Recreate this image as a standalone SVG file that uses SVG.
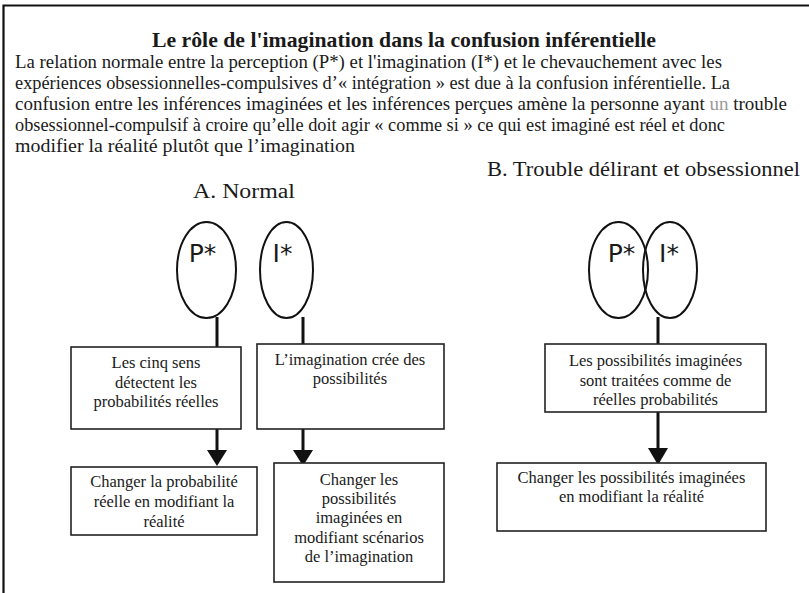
<svg xmlns="http://www.w3.org/2000/svg" width="809" height="593" viewBox="0 0 809 593">
<defs>
<style>
text{font-family:"Liberation Serif","Times New Roman",serif;fill:#1a1a1a}
.title{font-size:22px;font-weight:bold}
.body{font-size:18.7px}
.sec{font-size:20px}
.bx{font-size:16.5px;text-anchor:middle}
.lbl{font-family:"DejaVu Sans","Liberation Sans",sans-serif;font-size:25px;text-anchor:middle}
.box{fill:#fff;stroke:#222;stroke-width:1.6}
.ell{fill:none;stroke:#111;stroke-width:2}
.con{stroke:#111;stroke-width:3;fill:none}
.ah{fill:#111}
.grey{fill:#999}
</style>
</defs>
<rect width="809" height="593" fill="#fff"/>
<path d="M3.5,593 V5.5 H809" fill="none" stroke="#111" stroke-width="2.2"/>
<g id="header">
<text class="title" x="152" y="47" textLength="504" lengthAdjust="spacingAndGlyphs">Le rôle de l'imagination dans la confusion inférentielle</text>
<text class="body" x="15" y="68" textLength="707" lengthAdjust="spacingAndGlyphs">La relation normale entre la perception (P*) et l'imagination (I*) et le chevauchement avec les</text>
<text class="body" x="15" y="89" textLength="715" lengthAdjust="spacingAndGlyphs">expériences obsessionnelles-compulsives d’« intégration » est due à la confusion inférentielle. La</text>
<text class="body" x="15" y="110" textLength="772" lengthAdjust="spacingAndGlyphs">confusion entre les inférences imaginées et les inférences perçues amène la personne ayant <tspan class="grey">un</tspan> trouble</text>
<text class="body" x="15" y="131" textLength="710" lengthAdjust="spacingAndGlyphs">obsessionnel-compulsif à croire qu’elle doit agir « comme si » ce qui est imaginé est réel et donc</text>
<text class="body" x="15" y="152" textLength="340" lengthAdjust="spacingAndGlyphs">modifier la réalité plutôt que l’imagination</text>
<text class="sec" x="487" y="176" textLength="313" lengthAdjust="spacingAndGlyphs">B. Trouble délirant et obsessionnel</text>
<text class="sec" x="193" y="198" textLength="102" lengthAdjust="spacingAndGlyphs">A. Normal</text>
</g>
<g id="connectors">
<line class="con" x1="217" y1="317" x2="217" y2="347"/>
<line class="con" x1="303" y1="317" x2="303" y2="344"/>
<line class="con" x1="658" y1="317" x2="658" y2="344"/>
<line class="con" x1="217" y1="429" x2="217" y2="452"/>
<path class="ah" d="M207,450 L227,450 L217,466 Z"/>
<line class="con" x1="303" y1="429" x2="303" y2="452"/>
<path class="ah" d="M293,450 L313,450 L303,466 Z"/>
<line class="con" x1="658" y1="412" x2="658" y2="450"/>
<path class="ah" d="M648,448 L668,448 L658,465 Z"/>
</g>
<g id="P_A">
<ellipse class="ell" cx="206.5" cy="270" rx="29.5" ry="48"/>
<text class="lbl" x="202.5" y="262">P*</text>
</g>
<g id="I_A">
<ellipse class="ell" cx="286.5" cy="270" rx="26.5" ry="48"/>
<text class="lbl" x="282.5" y="262">I*</text>
</g>
<g id="P_B">
<ellipse class="ell" cx="618.5" cy="270" rx="29.5" ry="48"/>
<text class="lbl" x="621.5" y="262">P*</text>
</g>
<g id="I_B">
<ellipse class="ell" cx="670" cy="270" rx="27" ry="48"/>
<text class="lbl" x="669" y="262">I*</text>
</g>
<g id="box_sens">
<rect class="box" x="71" y="347" width="170" height="82"/>
<text class="bx" x="156" y="368">Les cinq sens</text>
<text class="bx" x="156" y="388">détectent les</text>
<text class="bx" x="156" y="407">probabilités réelles</text>
</g>
<g id="box_imag">
<rect class="box" x="257" y="344" width="187" height="85"/>
<text class="bx" x="350" y="365">L’imagination crée des</text>
<text class="bx" x="350" y="384">possibilités</text>
</g>
<g id="box_changer_prob">
<rect class="box" x="71" y="467" width="186" height="68"/>
<text class="bx" x="164" y="487">Changer la probabilité</text>
<text class="bx" x="164" y="507">réelle en modifiant la</text>
<text class="bx" x="164" y="527">réalité</text>
</g>
<g id="box_changer_poss">
<rect class="box" x="274" y="463" width="170" height="119"/>
<text class="bx" x="359" y="485">Changer les</text>
<text class="bx" x="359" y="504">possibilités</text>
<text class="bx" x="359" y="523">imaginées en</text>
<text class="bx" x="359" y="543">modifiant scénarios</text>
<text class="bx" x="359" y="562">de l’imagination</text>
</g>
<g id="box_traitees">
<rect class="box" x="545" y="344" width="221" height="68"/>
<text class="bx" x="655.5" y="366">Les possibilités imaginées</text>
<text class="bx" x="655.5" y="386">sont traitées comme de</text>
<text class="bx" x="655.5" y="405">réelles probabilités</text>
</g>
<g id="box_changer_real">
<rect class="box" x="497" y="463" width="269" height="68"/>
<text class="bx" x="631.5" y="483">Changer les possibilités imaginées</text>
<text class="bx" x="631.5" y="502">en modifiant la réalité</text>
</g>
</svg>
